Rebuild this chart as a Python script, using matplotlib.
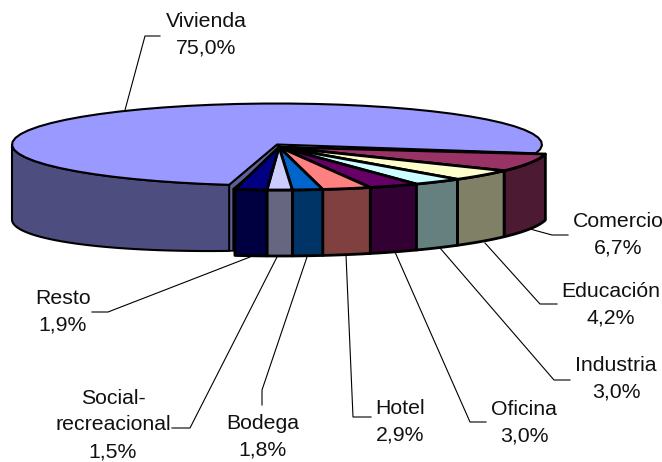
import numpy as np
import matplotlib
matplotlib.use("Agg")
import matplotlib.pyplot as plt

# --- Daten ---
labels = ["Vivienda", "Comercio", "Educación", "Industria", "Oficina",
          "Hotel", "Bodega", "Social-\nrecreacional", "Resto"]
values = [75.0, 6.7, 4.2, 3.0, 3.0, 2.9, 1.8, 1.5, 1.9]
top_colors = ["#9999FF", "#993366", "#FFFFCC", "#CCFFFF", "#660066",
              "#FF8080", "#0066CC", "#CCCCFF", "#000080"]
side_colors = ["#4D4D80", "#4D1A33", "#808066", "#668080", "#330033",
               "#804040", "#003366", "#666680", "#000040"]

# label centre, leader line (pixel coordinates of the picture)
label_pos = [(206, 34.5), (618, 234.5), (611, 304.5), (616, 378.5), (524, 422.5),
             (400, 421.5), (263, 436.5), (113, 425), (63, 311.5)]
leaders = [[(125, 110), (145, 36), (160, 36)],
           [(530, 229), (552, 235), (568, 235)],
           [(485, 243), (540, 304), (557, 304)],
           [(440, 248), (554, 380), (570, 380)],
           [(395, 252), (470, 422), (486, 422)],
           [(346, 255), (353, 417), (371, 417)],
           [(307, 257), (262, 390), (262, 405)],
           [(277, 257), (190, 428), (172, 428)],
           [(250, 257), (108, 312), (92, 312)]]

START = -9.4
CX, CY, A, B = 279, 147, 270, 43
DEPTH = 66

fig = plt.figure(figsize=(6.62, 4.62), dpi=100)
ax = fig.add_axes([0, 0, 1, 1])
ax.set_xlim(0, 662)
ax.set_ylim(462, 0)
ax.axis("off")
plt.rcParams["font.family"] = ["Liberation Sans", "DejaVu Sans"]


def rim(t1, t2, cx, cy, a, b):
    t = np.radians(np.linspace(t1, t2, 50))
    return cx + a * np.cos(t), cy - b * np.sin(t)


def wall(t1, t2, cx, cy, a, b, color, lw, extra=0):
    x, y = rim(t1, t2, cx, cy, a, b)
    # the left part of the big slice is a little deeper (perspective)
    d = DEPTH + extra * np.clip((231 - x) / 219, 0, 1)
    ax.fill(np.r_[x, x[::-1]], np.r_[y, (y + d)[::-1]], facecolor=color,
            edgecolor="black", linewidth=lw, joinstyle="round")


# angles from the values
ends = START - np.cumsum(values[1:])[:-1] * 3.6
angles = np.r_[START, ends, START - sum(values[1:]) * 3.6]

# big slice, pulled out slightly
viv_end = angles[-1] - 1.0
vx, vy, va, vb = 277, 144.5, 265, 41
cx0, cy0 = rim(viv_end, viv_end, vx, vy, va, vb)

# inner wall of the big slice, seen as a thin strip
ax.fill([cx0[0], vx, vx + 6, cx0[0] + 4, cx0[0] + 4, cx0[0]],
        [cy0[0], vy, vy + 3, cy0[0] + 4, cy0[0] + 66, cy0[0] + 66],
        facecolor="#5F5F96", edgecolor="black", linewidth=1.2)

wall(-180, viv_end, vx, vy, va, vb, side_colors[0], 1.5, extra=9)
x, y = rim(START - 3, 360 + viv_end, vx, vy, va, vb)
ax.fill(np.r_[vx, x], np.r_[vy, y], facecolor=top_colors[0],
        edgecolor="black", linewidth=1.5, joinstyle="round")

# small slices
for i in range(1, len(values)):
    t1, t2 = angles[i - 1], angles[i]
    wall(t2, t1, CX, CY, A, B, side_colors[i], 2)
for i in range(1, len(values)):
    t1, t2 = angles[i - 1], angles[i]
    x, y = rim(t1, t2, CX, CY, A, B)
    ax.fill(np.r_[CX, x], np.r_[CY, y], facecolor=top_colors[i],
            edgecolor="black", linewidth=2, joinstyle="round")

# labels and leader lines
for name, v, pos, line in zip(labels, values, label_pos, leaders):
    xs, ys = zip(*line)
    ax.plot(xs, ys, color="black", linewidth=0.8, zorder=1)
    txt = f"{name}\n{v:.1f}%".replace(".", ",")
    ax.text(pos[0], pos[1], txt, ha="center", va="center", fontsize=15.3,
            color="#111111", linespacing=1.53)

fig.savefig("out.png", dpi=100)
